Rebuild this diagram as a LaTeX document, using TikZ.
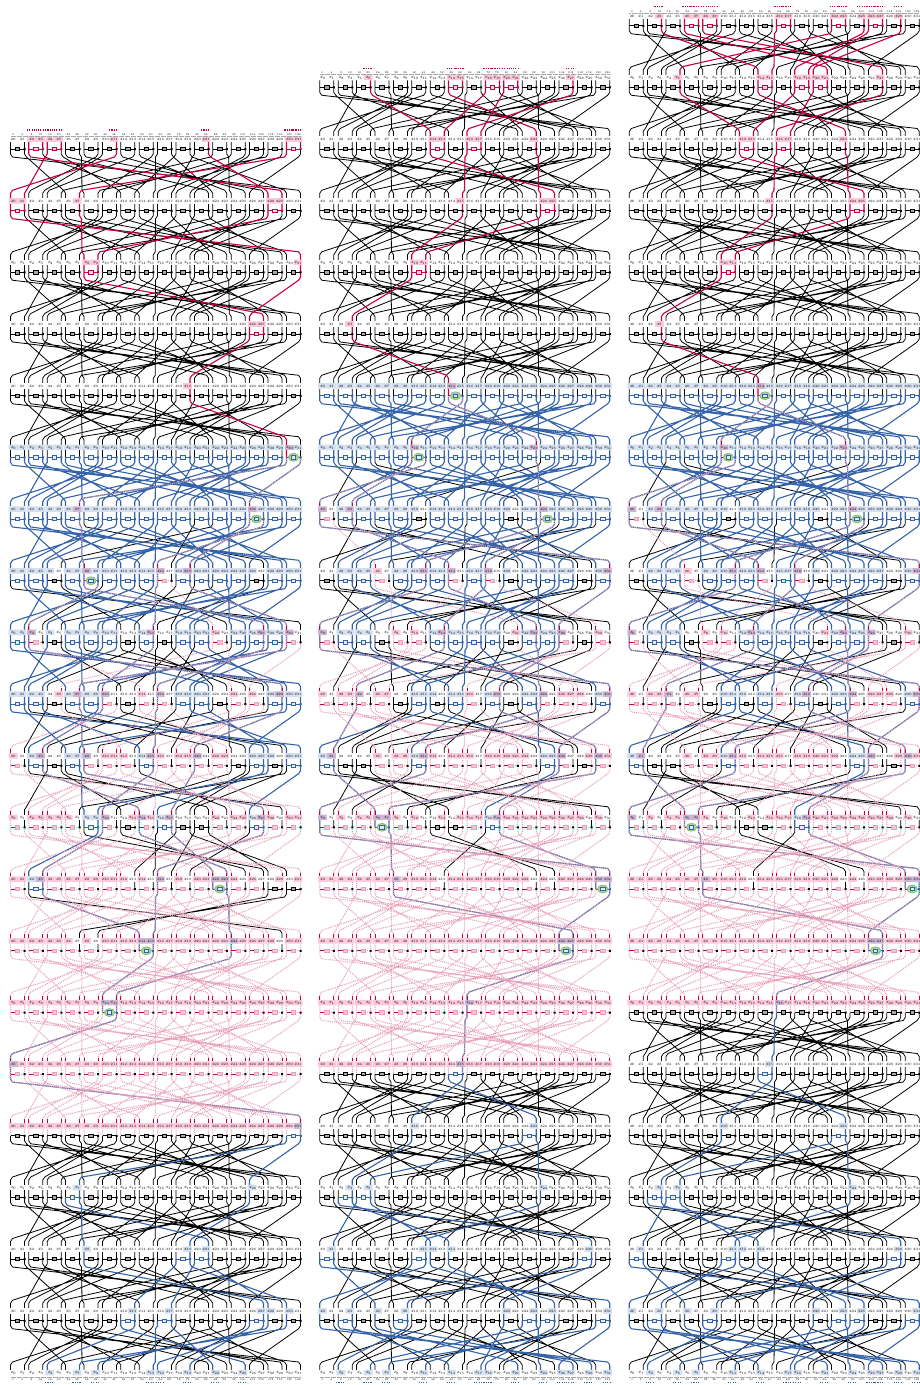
\documentclass[tikz,border=0pt]{standalone}
\usepackage{fontspec}
\usetikzlibrary{shapes.geometric}
\definecolor{wred}{HTML}{C9003F}
\definecolor{wblue}{HTML}{3563A9}
\definecolor{wpink}{HTML}{E7A0B8}
\definecolor{bgpink}{HTML}{FBC9D9}
\definecolor{bgblue}{HTML}{D4DFEF}
\definecolor{bgpurp}{HTML}{CDB5D3}
\definecolor{boxgray}{HTML}{A8A8A8}
\definecolor{boxblue}{HTML}{E4ECF7}
\definecolor{boxred}{HTML}{FBD5E1}
\definecolor{boxpink}{HTML}{F9C4D6}
\definecolor{boxgreen}{HTML}{A9D39B}
\definecolor{edgegreen}{HTML}{7DB86B}
\definecolor{txtgray}{HTML}{7A7A7A}
\definecolor{numgray}{HTML}{A6A6A6}
\definecolor{dotblue}{HTML}{2B6A9B}
\pgfdeclarelayer{lblack}\pgfdeclarelayer{lbl}\pgfdeclarelayer{lpk}\pgfdeclarelayer{lrd}
\pgfsetlayers{lblack,lbl,lpk,lrd,main}
\newif\ifOF \newif\ifBW
\newcommand{\setS}[4]{\foreach \qq in {#4}{\expandafter\gdef\csname #1-#2-#3-\qq\endcsname{}}}
\newcommand{\tabv}[2]{\pgfmathsetmacro\vv{round(4*(#2))/4}\expandafter\xdef\csname #1\endcsname{\vv}}
% permutation
\foreach \aa/\bb in {0/31,1/6,2/29,3/14,4/1,5/12,6/21,7/8,8/27,9/2,10/3,11/0,12/25,13/4,14/23,15/10,16/15,17/22,18/13,19/30,20/17,21/28,22/5,23/24,24/11,25/18,26/19,27/16,28/9,29/20,30/7,31/26}{\expandafter\xdef\csname pi-\aa\endcsname{\bb}}
% tables of positions, on a quarter point grid
\foreach \cc/\off in {1/0,2/309.4,3/618.8}{
 \foreach \ii in {0,...,31}{
  \pgfmathtruncatemacro\jb{floor(\ii/2)}
  \pgfmathsetmacro\cxx{17.4+18.4*\jb+\off}
  \ifodd\ii\relax
   \tabv{xs-\cc-\ii}{\cxx+7}\tabv{xla-\cc-\ii}{\cxx}\tabv{xle-\cc-\ii}{\cxx+8.9}\tabv{xc-\cc-\ii}{\cxx+4.4}
  \else
   \tabv{xs-\cc-\ii}{\cxx-7}\tabv{xla-\cc-\ii}{\cxx-8.9}\tabv{xle-\cc-\ii}{\cxx}\tabv{xc-\cc-\ii}{\cxx-4.4}
  \fi
  \tabv{bx-\cc-\jb}{\cxx}\tabv{ba-\cc-\jb}{\cxx-2.25}\tabv{be-\cc-\jb}{\cxx+2.25}
 }
 \tabv{sa-\cc}{8.5+\off}\tabv{se-\cc}{302.5+\off}
 \pgfmathsetmacro\vv{13+\off-4.4}\expandafter\xdef\csname tx-\cc\endcsname{\vv}
}
\foreach \kk in {0,...,22}{
 \pgfmathsetmacro\yy{25.66+61.67*\kk}
 \tabv{y-\kk}{\yy}\tabv{yo2-\kk}{\yy+8}
 \tabv{yt1-\kk}{\yy-20.5}\tabv{yt2-\kk}{\yy-17.5}
 \tabv{yu1-\kk}{\yy-16.5}\tabv{yu2-\kk}{\yy-12.75}
 \tabv{yla-\kk}{\yy-12.75}\tabv{yle-\kk}{\yy-7.25}
 \tabv{ytx-\kk}{\yy-8.75}
 \tabv{ybt-\kk}{\yy-1.75}\tabv{ybb-\kk}{\yy+1.75}
}
\expandafter\def\csname y-22\endcsname{1373.5}
\expandafter\def\csname solid-1\endcsname{6}
\expandafter\def\csname solid-2\endcsname{5}
\expandafter\def\csname solid-3\endcsname{5}
\expandafter\def\csname fb-1\endcsname{7}
\expandafter\def\csname fb-2\endcsname{6}
\expandafter\def\csname fb-3\endcsname{6}
% forward sets, column 1
\setS{F}{1}{2}{2,3,4,5,11,21,30,31}
\setS{F}{1}{3}{0,1,7,28,29}
\setS{F}{1}{4}{8,9,31}
\setS{F}{1}{5}{26,27}
\setS{F}{1}{6}{19}
\setS{F}{1}{7}{30}
\setS{F}{1}{8}{7,26}
\setS{F}{1}{9}{8,16,19}
\setS{F}{1}{10}{2,15,22,27,30}
\setS{F}{1}{11}{5,7,10,14,16,24,26,29}
\setS{F}{1}{12}{0,3,8,10,11,12,15,16,18,19,20,22,23}
\setS{F}{1}{13}{0,2,3,4,5,6,10,13,14,15,17,22,24,25,27,28,30,31}
\setS{F}{1}{14}{0,1,3,4,5,6,7,8,9,10,11,12,14,16,18,20,21,22,23,24,26,29,31}
\setS{F}{1}{15}{0,1,2,3,4,5,6,8,10,11,12,13,14,15,16,17,18,19,20,21,22,23,24,25,26,27,28,30,31}
\setS{F}{1}{16}{0,...,31}
\setS{F}{1}{17}{0,...,31}
\setS{G}{1}{18}{0,...,31}
% forward sets, columns 2 and 3
\setS{F}{3}{0}{3,6,7,8,9,16,17,22,23,25,26,27,29}
\foreach \cc in {2,3}{
\setS{F}{\cc}{1}{5,14,15,18,19,20,21,27}
\setS{F}{\cc}{2}{12,13,16,17,23}
\setS{F}{\cc}{3}{15,24,25}
\setS{F}{\cc}{4}{10,11}
\setS{F}{\cc}{5}{3}
\setS{F}{\cc}{6}{14}
\setS{F}{\cc}{7}{10,23}
\setS{F}{\cc}{8}{0,3,24}
\setS{F}{\cc}{9}{6,11,14,18,31}
\setS{F}{\cc}{10}{0,8,10,13,21,23,26,30}
\setS{F}{\cc}{11}{0,2,3,4,6,7,16,19,24,26,27,28,31}
\setS{F}{\cc}{12}{1,6,8,9,11,12,14,15,16,18,19,20,21,22,26,29,30,31}
\setS{F}{\cc}{13}{0,2,4,5,6,7,8,10,13,15,16,17,19,20,21,22,23,24,25,26,27,28,30}
\setS{F}{\cc}{14}{0,1,2,3,4,5,6,7,8,9,10,11,12,14,15,16,17,18,19,20,21,22,24,26,27,28,29,30,31}
\setS{F}{\cc}{15}{0,...,31}
}
\setS{F}{2}{16}{0,...,31}
\setS{G}{2}{17}{0,...,31}
\setS{G}{3}{16}{0,...,31}
% backward sets, column 1
\setS{B}{1}{7}{0,...,31}
\setS{B}{1}{8}{0,...,31}
\setS{B}{1}{9}{0,1,2,3,4,6,7,8,9,10,11,12,13,14,15,16,18,19,20,21,22,23,24,25,26,28,29,30,31}
\setS{B}{1}{10}{0,1,2,4,6,7,8,9,10,11,14,15,18,19,20,21,24,25,26,27,28,29,30}
\setS{B}{1}{11}{0,1,2,3,6,7,8,9,10,16,18,19,20,21,28,29,30,31}
\setS{B}{1}{12}{2,3,6,7,8,14,15,20,26,27,28,30,31}
\setS{B}{1}{13}{8,9,10,14,16,17,26,27}
\setS{B}{1}{14}{2,3,16,22,23}
\setS{B}{1}{15}{14,15,24}
\setS{B}{1}{16}{10,11}
\setS{B}{1}{17}{0}
\setS{B}{1}{18}{31}
\setS{B}{1}{19}{7,26}
\setS{B}{1}{20}{8,19,21}
\setS{B}{1}{21}{13,17,27,28,30}
\setS{B}{1}{22}{4,7,9,15,16,19,22,25}
% backward sets, columns 2 and 3
\foreach \cc in {2,3}{
\setS{B}{\cc}{6}{0,...,31}
\setS{B}{\cc}{7}{0,...,31}
\setS{B}{\cc}{8}{0,2,3,4,5,6,7,8,9,10,12,13,14,15,16,17,18,19,20,22,23,24,25,26,27,28,29,30,31}
\setS{B}{\cc}{9}{2,3,4,5,8,9,10,11,12,13,14,16,17,18,20,22,23,24,25,26,27,30,31}
\setS{B}{\cc}{10}{0,2,3,4,5,12,13,14,15,16,17,18,19,22,23,24,25,26}
\setS{B}{\cc}{11}{4,10,11,12,14,15,18,19,22,23,24,30,31}
\setS{B}{\cc}{12}{0,1,10,11,24,25,26,30}
\setS{B}{\cc}{13}{0,6,7,18,19}
\setS{B}{\cc}{14}{8,30,31}
\setS{B}{\cc}{15}{26,27}
\setS{B}{\cc}{16}{16}
\setS{B}{\cc}{17}{15}
\setS{B}{\cc}{18}{10,23}
\setS{B}{\cc}{19}{3,5,24}
\setS{B}{\cc}{20}{1,11,12,14,29}
\setS{B}{\cc}{21}{0,3,6,9,20,23,25,31}
\setS{B}{\cc}{22}{2,5,7,11,14,17,18,21,24,26,27,29,31}
}
\tikzset{
 wk/.style={black,line width=.8pt,line join=round},
 wb/.style={wblue,line width=1.1pt,line join=round},
 wr/.style={wred,line width=1.1pt,line join=round},
 wp/.style={wpink,line width=1pt,line join=round,dash pattern=on 1pt off .9pt},
 hk/.style={black,line width=.8pt},
 hb/.style={wblue,line width=1pt},
 hr/.style={wred,line width=1pt},
 labrow/.style={inner sep=0pt,anchor=base west,text=txtgray},
 numrow/.style={inner sep=0pt,anchor=base west,text=numgray},
 gbox/.style={draw=black,fill=boxgray,line width=.55pt},
 bbox/.style={draw=wblue,fill=boxblue,line width=.7pt},
 rbox/.style={draw=wred,fill=boxred,line width=.7pt},
 pbox/.style={draw=wpink,fill=boxpink,line width=.9pt},
 gell/.style={ellipse,draw=edgegreen,fill=boxgreen,inner sep=0pt,minimum width=10.5pt,minimum height=8pt,line width=.6pt},
 strip/.style={line width=1.3pt,dash pattern=on 1.2pt off 1.1pt},
 rule/.style={numgray,line width=.35pt,dash pattern=on .5pt off .7pt},
}
\newcommand{\xlab}[1]{{\itshape x}\raisebox{-.7pt}{\fontsize{3.3}{3.3}\selectfont #1}}
\newcommand{\LB}[1]{\hbox to 0pt{\hss\xlab{#1}\hss}}
\newcommand{\NB}[1]{\hbox to 0pt{\hss#1\hss}}
\newcommand{\addto}[2]{\xdef#1{#1 #2}}
\newcommand{\flush}[3]{\ifx#3\empty\else\begin{pgfonlayer}{#1}\edef\tmpp{\noexpand\draw[#2] #3;}\tmpp\end{pgfonlayer}\fi}
\newcommand{\flushm}[2]{\ifx#2\empty\else\edef\tmpp{\noexpand\path[#1] #2;}\tmpp\fi}
\newsavebox\rowbox
\newsavebox\numbox
\begin{document}
\sbox\rowbox{\fontsize{5}{5}\selectfont\kern4.4pt
\LB{0}\kern8.8pt\LB{1}\kern9.6pt\LB{2}\kern8.8pt\LB{3}\kern9.6pt\LB{4}\kern8.8pt\LB{5}\kern9.6pt\LB{6}\kern8.8pt\LB{7}\kern9.6pt%
\LB{8}\kern8.8pt\LB{9}\kern9.6pt\LB{10}\kern8.8pt\LB{11}\kern9.6pt\LB{12}\kern8.8pt\LB{13}\kern9.6pt\LB{14}\kern8.8pt\LB{15}\kern9.6pt%
\LB{16}\kern8.8pt\LB{17}\kern9.6pt\LB{18}\kern8.8pt\LB{19}\kern9.6pt\LB{20}\kern8.8pt\LB{21}\kern9.6pt\LB{22}\kern8.8pt\LB{23}\kern9.6pt%
\LB{24}\kern8.8pt\LB{25}\kern9.6pt\LB{26}\kern8.8pt\LB{27}\kern9.6pt\LB{28}\kern8.8pt\LB{29}\kern9.6pt\LB{30}\kern8.8pt\LB{31}\kern4.4pt}
\sbox\numbox{\fontsize{2.7}{2.7}\selectfont\kern4.4pt
\NB{0}\kern8.8pt\NB{4}\kern9.6pt\NB{8}\kern8.8pt\NB{12}\kern9.6pt\NB{16}\kern8.8pt\NB{20}\kern9.6pt\NB{24}\kern8.8pt\NB{28}\kern9.6pt%
\NB{32}\kern8.8pt\NB{36}\kern9.6pt\NB{40}\kern8.8pt\NB{44}\kern9.6pt\NB{48}\kern8.8pt\NB{52}\kern9.6pt\NB{56}\kern8.8pt\NB{60}\kern9.6pt%
\NB{64}\kern8.8pt\NB{68}\kern9.6pt\NB{72}\kern8.8pt\NB{76}\kern9.6pt\NB{80}\kern8.8pt\NB{84}\kern9.6pt\NB{88}\kern8.8pt\NB{92}\kern9.6pt%
\NB{96}\kern8.8pt\NB{100}\kern9.6pt\NB{104}\kern8.8pt\NB{108}\kern9.6pt\NB{112}\kern8.8pt\NB{116}\kern9.6pt\NB{120}\kern8.8pt\NB{124}\kern4.4pt}
\begin{tikzpicture}[x=1pt,y=-1pt]
\useasboundingbox (0,0) rectangle (920,1385);
% named stem points
\foreach \cc in {1,2,3}{
 \edef\kz{\the\numexpr 3-\cc\relax}
 \foreach \kk in {\kz,...,22}{
  \edef\ys{\csname y-\kk\endcsname}
  \foreach \ii in {0,...,31}{
   \edef\xx{\csname xs-\cc-\ii\endcsname}
   \coordinate (s-\cc-\kk-\ii) at (\xx,\ys);
  }
 }
}
\foreach \cc in {1,2,3}{
 \edef\kz{\the\numexpr 3-\cc\relax}
 \edef\sol{\csname solid-\cc\endcsname}
 \edef\fb{\csname fb-\cc\endcsname}
 \edef\tx{\csname tx-\cc\endcsname}
 \foreach \kk in {\kz,...,22}{
  \edef\kn{\the\numexpr\kk+1\relax}
  \edef\ys{\csname y-\kk\endcsname}
  \gdef\Wk{}\gdef\Wb{}\gdef\Wr{}\gdef\Wp{}\gdef\Hk{}\gdef\Hb{}\gdef\Hr{}\gdef\Hp{}
  \gdef\Bg{}\gdef\Bb{}\gdef\Br{}\gdef\Bp{}\gdef\Dk{}\gdef\Db{}\gdef\Dr{}\gdef\Su{}
  \gdef\Lp{}\gdef\Lb{}\gdef\Lu{}
  \ifnum\kk<22\relax
  \edef\yob{\csname yo2-\kk\endcsname}
  \edef\yta{\csname yt1-\kn\endcsname}\edef\ytb{\csname yt2-\kn\endcsname}
  \edef\ybt{\csname ybt-\kk\endcsname}\edef\ybb{\csname ybb-\kk\endcsname}
  % wires
  \foreach \ii in {0,...,31}{
   \edef\jj{\csname pi-\ii\endcsname}
   \ifodd\ii\relax\edef\pp{\the\numexpr\ii-1\relax}\else\edef\pp{\the\numexpr\ii+1\relax}\fi
   \OFfalse
   \ifcsname F-\cc-\kk-\ii\endcsname
    \ifodd\ii\relax
     \ifnum\kk>\sol\relax\OFtrue\else\ifcsname F-\cc-\kk-\pp\endcsname\else\OFtrue\fi\fi
    \else\OFtrue\fi
   \else
    \ifodd\ii\relax\ifnum\kk>\sol\relax\ifcsname F-\cc-\kk-\pp\endcsname\OFtrue\fi\fi\fi
   \fi
   \BWfalse
   \ifnum\kn>\fb\relax\ifcsname B-\cc-\kn-\jj\endcsname\BWtrue\fi\fi
   \edef\xsa{\csname xs-\cc-\ii\endcsname}\edef\xsd{\csname xs-\cc-\jj\endcsname}
   \ifdim\xsd pt>\xsa pt\relax
    \edef\xca{\the\dimexpr\xsa pt+2pt\relax}\edef\xcd{\the\dimexpr\xsd pt-2pt\relax}
   \else
    \edef\xca{\the\dimexpr\xsa pt-2pt\relax}\edef\xcd{\the\dimexpr\xsd pt+2pt\relax}
   \fi
   \edef\wpath{(s-\cc-\kk-\ii) -- ++(0,5) -- (\xca,\yob) -- (\xcd,\yta) -- (\xsd,\ytb) -- (s-\cc-\kn-\jj)}
   \ifBW
    \addto\Wb{\wpath}
    \ifOF\addto\Wp{\wpath}\fi
   \else
    \ifOF
     \ifnum\kk>\sol\relax\addto\Wp{\wpath}\else\addto\Wr{\wpath}\fi
    \else
     \addto\Wk{\wpath}
    \fi
   \fi
  }
  % free top stems of the first row
  \ifnum\kk=\kz\relax
   \foreach \ii in {0,...,31}{
    \ifcsname F-\cc-\kk-\ii\endcsname
     \addto\Wr{(s-\cc-\kk-\ii) -- ++(0,-7)}
    \else
     \addto\Wk{(s-\cc-\kk-\ii) -- ++(0,-7)}
    \fi
   }
  \fi
  % S-boxes
  \foreach \jb in {0,...,15}{
   \edef\ia{\the\numexpr2*\jb\relax}\edef\ib{\the\numexpr2*\jb+1\relax}
   \edef\xb{\csname bx-\cc-\jb\endcsname}
   \edef\rct{(\csname ba-\cc-\jb\endcsname,\ybt) rectangle (\csname be-\cc-\jb\endcsname,\ybb)}
   \edef\dct{(s-\cc-\kk-\ib) ++(-1,-1) rectangle ++(2,2)}
   \OFfalse\BWfalse
   \ifcsname F-\cc-\kk-\ia\endcsname\OFtrue\fi
   \ifcsname B-\cc-\kk-\ib\endcsname\BWtrue\fi
   \ifBW
    \ifOF
     \node[gell] (e-\cc-\kk-\jb) at (\xb,\ys) {};
     \addto\Hr{(s-\cc-\kk-\ia) -- (\xb,\ys)}
     \addto\Hb{(\xb,\ys) -- (s-\cc-\kk-\ib)}
    \else
     \addto\Hb{(s-\cc-\kk-\ia) -- (s-\cc-\kk-\ib)}
    \fi
    \addto\Bb{\rct}\addto\Db{\dct}
   \else
    \ifOF
     \ifnum\kk>\sol\relax
      \addto\Hr{(s-\cc-\kk-\ia) -- (\xb,\ys)}
      \addto\Hp{(\xb,\ys) -- (s-\cc-\kk-\ib)}
      \addto\Bp{\rct}\addto\Dk{\dct}
     \else
      \addto\Hr{(s-\cc-\kk-\ia) -- (s-\cc-\kk-\ib)}
      \addto\Br{\rct}\addto\Dr{\dct}
     \fi
    \else
     \addto\Hk{(s-\cc-\kk-\ia) -- (s-\cc-\kk-\ib)}
     \addto\Bg{\rct}\addto\Dk{\dct}
    \fi
   \fi
  }
  \fi
  \flush{lblack}{wk}{\Wk}
  \flush{lblack}{hk}{\Hk}
  \flush{lbl}{wb}{\Wb}
  \flush{lpk}{wp}{\Wp}
  \flush{lrd}{wr}{\Wr}
  \flush{lrd}{hb}{\Hb}
  \flush{lrd}{hr}{\Hr}
  \flush{lrd}{wp}{\Hp}
  \flushm{gbox}{\Bg}
  \flushm{bbox}{\Bb}
  \flushm{rbox}{\Br}
  \flushm{pbox}{\Bp}
  \flushm{fill=black}{\Dk}
  \flushm{fill=wblue}{\Db}
  \flushm{fill=wred}{\Dr}
  % labels
  \edef\ylu{\csname yu1-\kk\endcsname}\edef\ylw{\csname yu2-\kk\endcsname}
  \edef\sa{\csname sa-\cc\endcsname}\edef\se{\csname se-\cc\endcsname}
  \edef\yla{\csname yla-\kk\endcsname}\edef\yle{\csname yle-\kk\endcsname}
  \edef\ytx{\csname ytx-\kk\endcsname}
  \foreach \ii in {0,...,31}{
   \edef\lct{(\csname xla-\cc-\ii\endcsname,\yla) rectangle (\csname xle-\cc-\ii\endcsname,\yle)}
   \OFfalse\BWfalse
   \ifcsname F-\cc-\kk-\ii\endcsname\OFtrue\fi
   \ifcsname G-\cc-\kk-\ii\endcsname\OFtrue\fi
   \ifcsname B-\cc-\kk-\ii\endcsname\BWtrue\fi
   \ifBW
    \ifOF\addto\Lu{\lct}\else\addto\Lb{\lct}\fi
   \else
    \ifOF\addto\Lp{\lct}\fi
   \fi
   \ifOF\ifnum\kk>\sol\relax
    \edef\xx{\csname xs-\cc-\ii\endcsname}
    \addto\Su{(\xx,\ylu) -- (\xx,\ylw)}
   \fi\fi
  }
  \fill[white] (\sa,\yla) rectangle (\se,\yle);
  \flushm{fill=bgpink}{\Lp}
  \flushm{fill=bgblue}{\Lb}
  \flushm{fill=bgpurp}{\Lu}
  \flushm{draw=wred,line width=1pt}{\Su}
  \node[labrow] (r-\cc-\kk) at (\tx,\ytx) {\usebox\rowbox};
 }
 % bit numbering and rules, top and bottom
 \edef\yT{\csname yla-\kz\endcsname}
 \pgfmathsetmacro\yN{\yT-1.0}\pgfmathsetmacro\yR{\yT-.3}\pgfmathsetmacro\yD{\yT-6.2}
 \edef\yB{\csname yle-22\endcsname}
 \pgfmathsetmacro\yNb{\yB+5.6}\pgfmathsetmacro\yRb{\yB+1.6}\pgfmathsetmacro\yDb{\yB+7.5}
 \edef\xa{\csname xs-\cc-0\endcsname}\edef\xe{\csname xs-\cc-31\endcsname}
 \coordinate (ra-\cc-t) at (\xa,\yR);\coordinate (re-\cc-t) at (\xe,\yR);
 \coordinate (ra-\cc-b) at (\xa,\yRb);\coordinate (re-\cc-b) at (\xe,\yRb);
 \draw[rule] (ra-\cc-t) -- (re-\cc-t);
 \draw[rule] (ra-\cc-b) -- (re-\cc-b);
 \node[numrow] (nt-\cc) at (\tx,\yN) {\usebox\numbox};
 \node[numrow] (nb-\cc) at (\tx,\yNb) {\usebox\numbox};
 \foreach \ii in {0,...,31}{
  \edef\xl{\csname xc-\cc-\ii\endcsname}
  \ifcsname F-\cc-\kz-\ii\endcsname
   \draw[strip,wred] (\xl-4.6,\yD) -- (\xl+4.6,\yD);
  \fi
  \ifcsname B-\cc-22-\ii\endcsname
   \draw[strip,dotblue] (\xl-4.6,\yDb) -- (\xl+4.6,\yDb);
  \fi
 }
}
\end{tikzpicture}
\end{document}
